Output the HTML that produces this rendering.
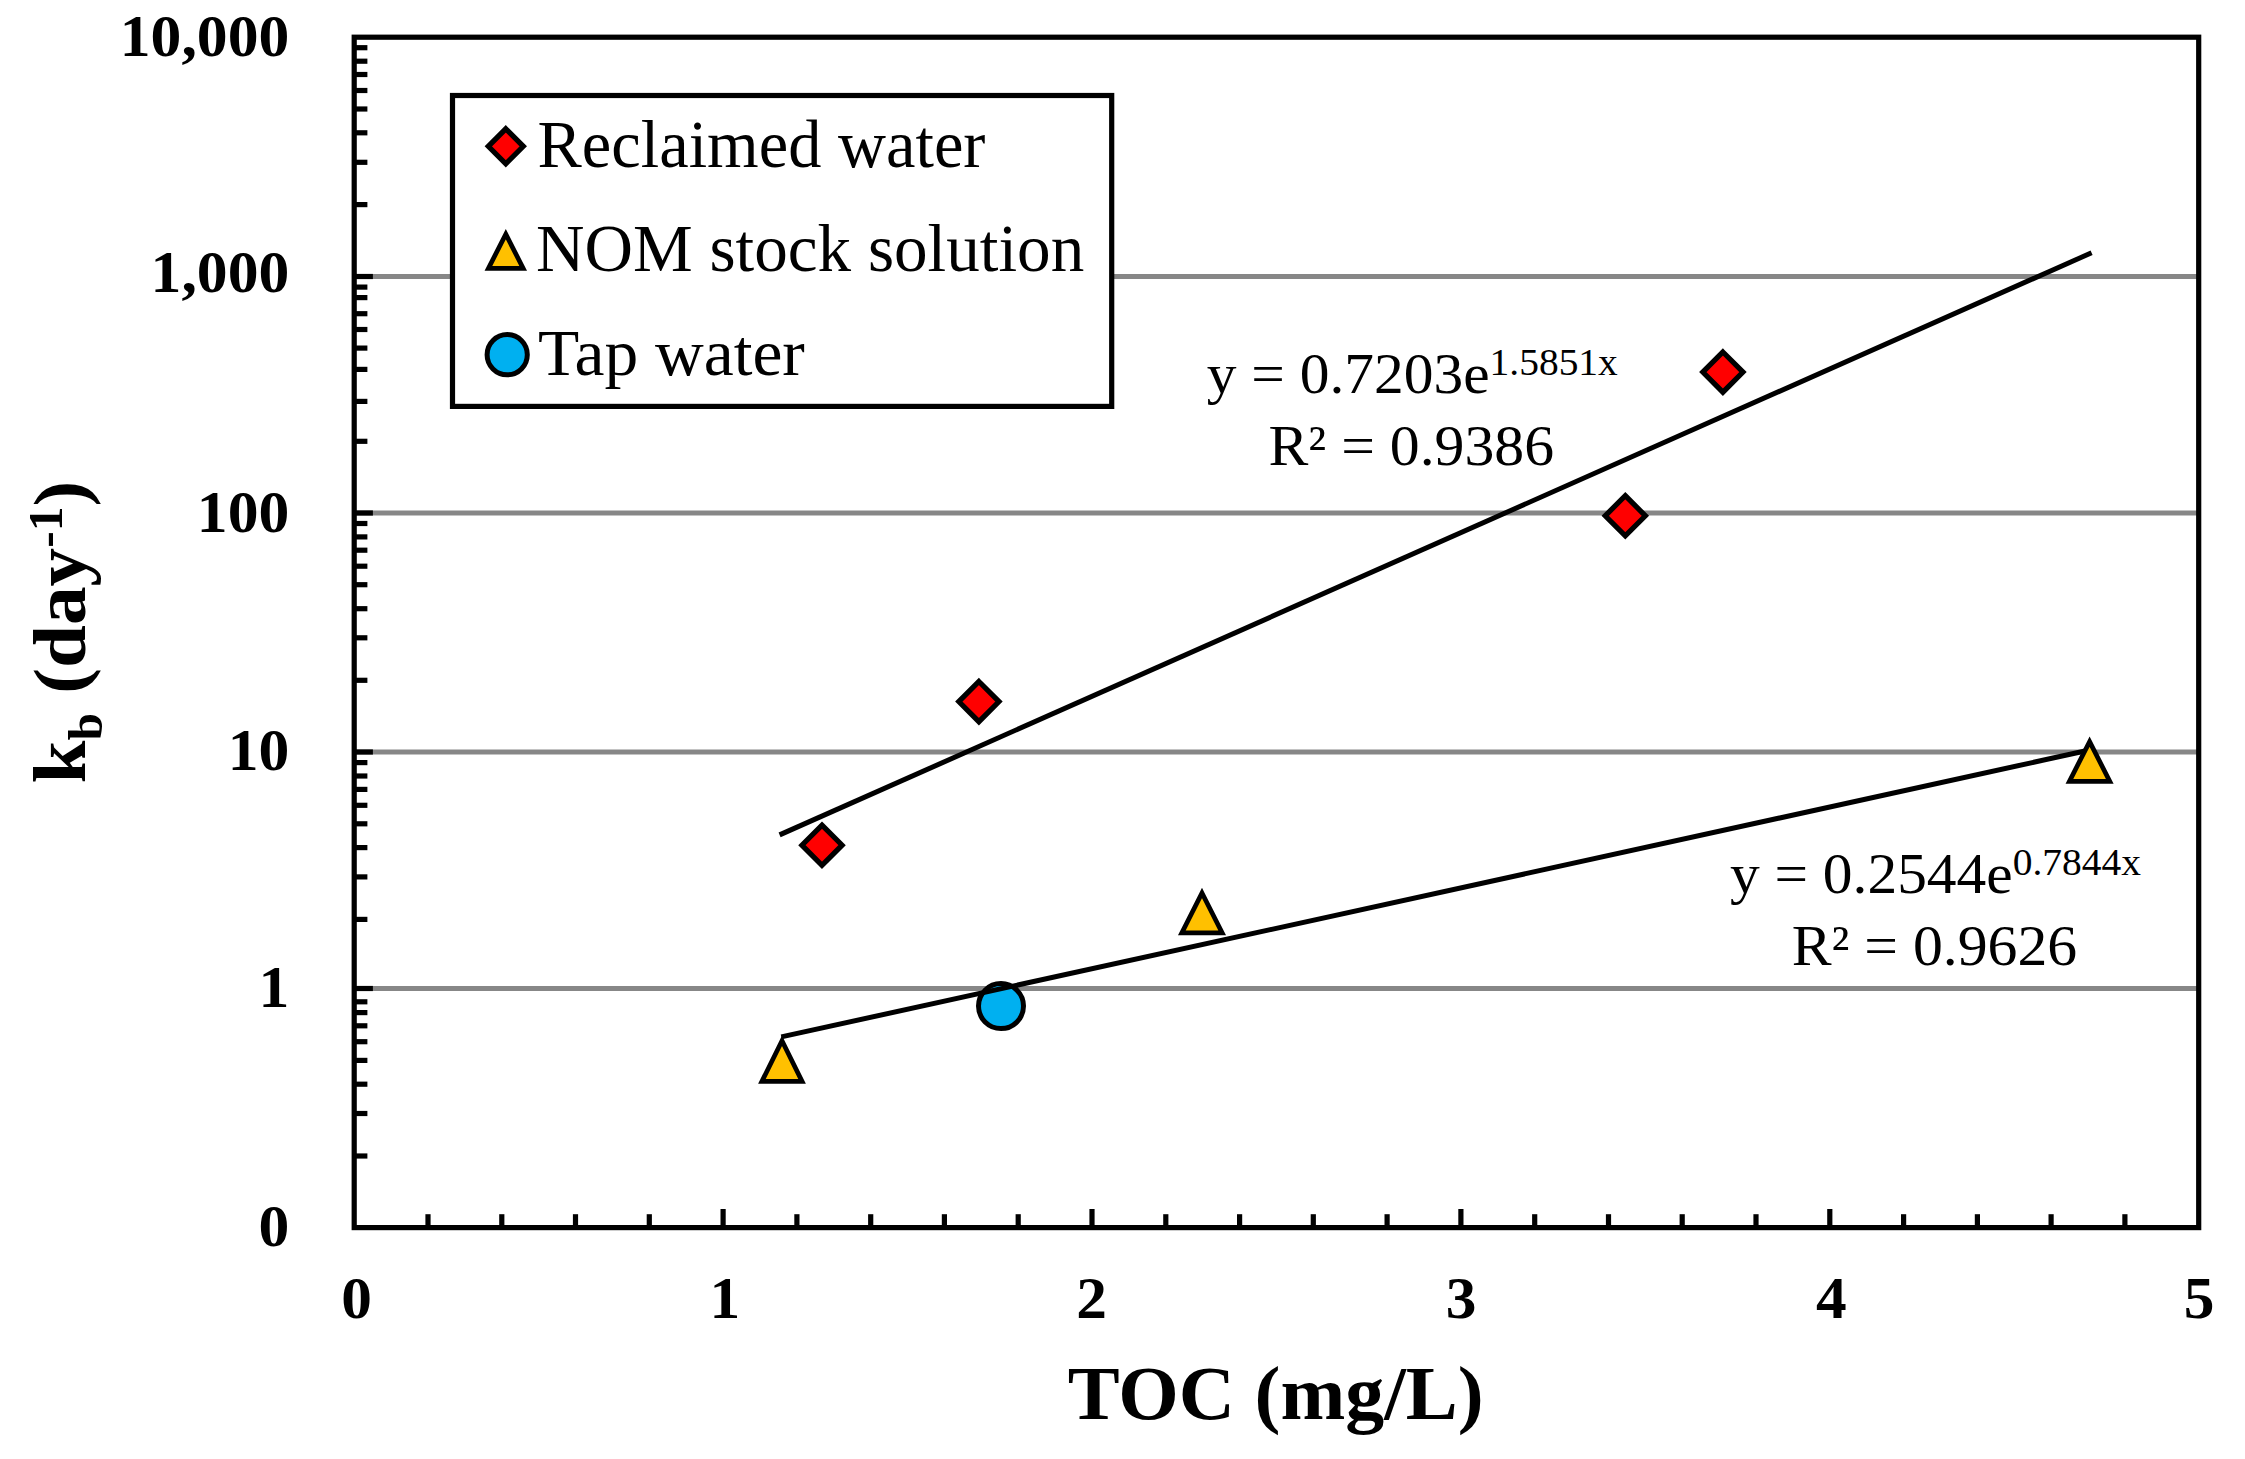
<!DOCTYPE html>
<html lang="en"><head><meta charset="utf-8"><title>kb vs TOC</title>
<style>html,body{margin:0;padding:0;background:#fff}svg{display:block}text{font-family:"Liberation Serif","Times New Roman",serif;fill:#000}.b{font-weight:bold}</style></head><body>
<svg width="2245" height="1459" viewBox="0 0 2245 1459">
<rect width="2245" height="1459" fill="#fff"/>
<g stroke="#878787" stroke-width="5.2">
<line x1="354.2" y1="276.5" x2="2198.7" y2="276.5"/>
<line x1="354.2" y1="513.0" x2="2198.7" y2="513.0"/>
<line x1="354.2" y1="752.0" x2="2198.7" y2="752.0"/>
<line x1="354.2" y1="988.5" x2="2198.7" y2="988.5"/>
</g>
<g stroke="#000" stroke-width="5.2">
<line x1="354.2" y1="47.7" x2="367.4" y2="47.7"/>
<line x1="354.2" y1="61.2" x2="367.4" y2="61.2"/>
<line x1="354.2" y1="74.5" x2="367.4" y2="74.5"/>
<line x1="354.2" y1="90.5" x2="367.4" y2="90.5"/>
<line x1="354.2" y1="109.0" x2="367.4" y2="109.0"/>
<line x1="354.2" y1="132.8" x2="367.4" y2="132.8"/>
<line x1="354.2" y1="162.3" x2="367.4" y2="162.3"/>
<line x1="354.2" y1="204.6" x2="367.4" y2="204.6"/>
<line x1="354.2" y1="287.1" x2="367.4" y2="287.1"/>
<line x1="354.2" y1="297.6" x2="367.4" y2="297.6"/>
<line x1="354.2" y1="313.7" x2="367.4" y2="313.7"/>
<line x1="354.2" y1="329.5" x2="367.4" y2="329.5"/>
<line x1="354.2" y1="348.1" x2="367.4" y2="348.1"/>
<line x1="354.2" y1="369.4" x2="367.4" y2="369.4"/>
<line x1="354.2" y1="401.4" x2="367.4" y2="401.4"/>
<line x1="354.2" y1="441.3" x2="367.4" y2="441.3"/>
<line x1="354.2" y1="523.5" x2="367.4" y2="523.5"/>
<line x1="354.2" y1="536.9" x2="367.4" y2="536.9"/>
<line x1="354.2" y1="550.2" x2="367.4" y2="550.2"/>
<line x1="354.2" y1="566.2" x2="367.4" y2="566.2"/>
<line x1="354.2" y1="584.7" x2="367.4" y2="584.7"/>
<line x1="354.2" y1="608.7" x2="367.4" y2="608.7"/>
<line x1="354.2" y1="637.8" x2="367.4" y2="637.8"/>
<line x1="354.2" y1="680.3" x2="367.4" y2="680.3"/>
<line x1="354.2" y1="762.6" x2="367.4" y2="762.6"/>
<line x1="354.2" y1="776.0" x2="367.4" y2="776.0"/>
<line x1="354.2" y1="789.4" x2="367.4" y2="789.4"/>
<line x1="354.2" y1="805.3" x2="367.4" y2="805.3"/>
<line x1="354.2" y1="823.8" x2="367.4" y2="823.8"/>
<line x1="354.2" y1="847.6" x2="367.4" y2="847.6"/>
<line x1="354.2" y1="876.9" x2="367.4" y2="876.9"/>
<line x1="354.2" y1="919.4" x2="367.4" y2="919.4"/>
<line x1="354.2" y1="1001.8" x2="367.4" y2="1001.8"/>
<line x1="354.2" y1="1012.6" x2="367.4" y2="1012.6"/>
<line x1="354.2" y1="1025.8" x2="367.4" y2="1025.8"/>
<line x1="354.2" y1="1041.7" x2="367.4" y2="1041.7"/>
<line x1="354.2" y1="1060.4" x2="367.4" y2="1060.4"/>
<line x1="354.2" y1="1084.2" x2="367.4" y2="1084.2"/>
<line x1="354.2" y1="1113.5" x2="367.4" y2="1113.5"/>
<line x1="354.2" y1="1156.0" x2="367.4" y2="1156.0"/>
<line x1="354.2" y1="276.5" x2="372.9" y2="276.5"/>
<line x1="354.2" y1="513.0" x2="372.9" y2="513.0"/>
<line x1="354.2" y1="752.0" x2="372.9" y2="752.0"/>
<line x1="354.2" y1="988.5" x2="372.9" y2="988.5"/>
<line x1="428.0" y1="1227.6" x2="428.0" y2="1214.2"/>
<line x1="501.8" y1="1227.6" x2="501.8" y2="1214.2"/>
<line x1="575.5" y1="1227.6" x2="575.5" y2="1214.2"/>
<line x1="649.3" y1="1227.6" x2="649.3" y2="1214.2"/>
<line x1="723.1" y1="1227.6" x2="723.1" y2="1209.0"/>
<line x1="796.9" y1="1227.6" x2="796.9" y2="1214.2"/>
<line x1="870.7" y1="1227.6" x2="870.7" y2="1214.2"/>
<line x1="944.4" y1="1227.6" x2="944.4" y2="1214.2"/>
<line x1="1018.2" y1="1227.6" x2="1018.2" y2="1214.2"/>
<line x1="1092.0" y1="1227.6" x2="1092.0" y2="1209.0"/>
<line x1="1165.8" y1="1227.6" x2="1165.8" y2="1214.2"/>
<line x1="1239.6" y1="1227.6" x2="1239.6" y2="1214.2"/>
<line x1="1313.3" y1="1227.6" x2="1313.3" y2="1214.2"/>
<line x1="1387.1" y1="1227.6" x2="1387.1" y2="1214.2"/>
<line x1="1460.9" y1="1227.6" x2="1460.9" y2="1209.0"/>
<line x1="1534.7" y1="1227.6" x2="1534.7" y2="1214.2"/>
<line x1="1608.5" y1="1227.6" x2="1608.5" y2="1214.2"/>
<line x1="1682.2" y1="1227.6" x2="1682.2" y2="1214.2"/>
<line x1="1756.0" y1="1227.6" x2="1756.0" y2="1214.2"/>
<line x1="1829.8" y1="1227.6" x2="1829.8" y2="1209.0"/>
<line x1="1903.6" y1="1227.6" x2="1903.6" y2="1214.2"/>
<line x1="1977.4" y1="1227.6" x2="1977.4" y2="1214.2"/>
<line x1="2051.1" y1="1227.6" x2="2051.1" y2="1214.2"/>
<line x1="2124.9" y1="1227.6" x2="2124.9" y2="1214.2"/>
</g>
<rect x="354.2" y="37.2" width="1844.5" height="1190.4" fill="none" stroke="#000" stroke-width="5.2"/>
<circle cx="1001" cy="1006.1" r="22.5" fill="#00B0F0" stroke="#000" stroke-width="5.0"/>
<g stroke="#000" stroke-width="5.0" stroke-linecap="butt">
<line x1="779.6" y1="834.9" x2="2091.6" y2="252.8"/>
<line x1="781.3" y1="1036.9" x2="2089.6" y2="750.0"/>
</g>
<path d="M782 1040.8L802.1 1081.4L761.9 1081.4Z" fill="#FFC000" stroke="#000" stroke-width="4.7" stroke-linejoin="miter"/>
<path d="M1202 893.0L1222.2 932.9L1181.8 932.9Z" fill="#FFC000" stroke="#000" stroke-width="4.7" stroke-linejoin="miter"/>
<path d="M2089.6 741.6L2109.8 781.4L2069.4 781.4Z" fill="#FFC000" stroke="#000" stroke-width="4.7" stroke-linejoin="miter"/>
<path d="M822 825.1L842.1 845.2L822 865.3L801.9 845.2Z" fill="#FF0000" stroke="#000" stroke-width="5.2" stroke-linejoin="miter"/>
<path d="M978.9 681.5L999.0 701.6L978.9 721.7L958.8 701.6Z" fill="#FF0000" stroke="#000" stroke-width="5.2" stroke-linejoin="miter"/>
<path d="M1625.3 495.7L1645.4 515.8L1625.3 535.9L1605.2 515.8Z" fill="#FF0000" stroke="#000" stroke-width="5.2" stroke-linejoin="miter"/>
<path d="M1722.9 352.0L1743.0 372.1L1722.9 392.2L1702.8 372.1Z" fill="#FF0000" stroke="#000" stroke-width="5.2" stroke-linejoin="miter"/>
<rect x="452.5" y="95.5" width="659.2" height="310.9" fill="#fff" stroke="#000" stroke-width="5.2"/>
<path d="M505.8 128.8L523.3 146.3L505.8 163.8L488.3 146.3Z" fill="#FF0000" stroke="#000" stroke-width="5.2" stroke-linejoin="miter"/>
<path d="M505.8 234.1L523.2 268.4L488.4 268.4Z" fill="#FFC000" stroke="#000" stroke-width="4.7" stroke-linejoin="miter"/>
<circle cx="507.2" cy="354.7" r="20.1" fill="#00B0F0" stroke="#000" stroke-width="5.0"/>
<text font-size="66.6" text-anchor="start" transform="translate(537.5 167.4) scale(0.997 1)">Reclaimed water</text>
<text font-size="66.6" text-anchor="start" transform="translate(536.0 270.8) scale(1.008 1)">NOM stock solution</text>
<text font-size="66.6" text-anchor="start" transform="translate(538 374.6) scale(1.013 1)">Tap water</text>
<text font-size="58" text-anchor="middle" transform="translate(1412.3 392.7) scale(1.025 1)">y = 0.7203e<tspan font-size="38.5" dy="-17.8">1.5851x</tspan></text>
<text font-size="58" text-anchor="middle" transform="translate(1411.3 464.5) scale(1.03 1)">R² = 0.9386</text>
<text font-size="58" text-anchor="middle" transform="translate(1935.4 892.7) scale(1.025 1)">y = 0.2544e<tspan font-size="38.5" dy="-17.8">0.7844x</tspan></text>
<text font-size="58" text-anchor="middle" transform="translate(1934.4 964.5) scale(1.03 1)">R² = 0.9626</text>
<text class="b" font-size="59" text-anchor="end" transform="translate(289.3 55.6) scale(1.045 1)">10,000</text>
<text class="b" font-size="59" text-anchor="end" transform="translate(289.3 292.0) scale(1.045 1)">1,000</text>
<text class="b" font-size="59" text-anchor="end" transform="translate(289.3 531.5) scale(1.045 1)">100</text>
<text class="b" font-size="59" text-anchor="end" transform="translate(289.3 770.4) scale(1.045 1)">10</text>
<text class="b" font-size="59" text-anchor="end" transform="translate(289.3 1006.7) scale(1.045 1)">1</text>
<text class="b" font-size="59" text-anchor="end" transform="translate(289.3 1245.6) scale(1.045 1)">0</text>
<text class="b" font-size="59" text-anchor="middle" transform="translate(356.7 1317.6) scale(1.04 1)">0</text>
<text class="b" font-size="59" text-anchor="middle" transform="translate(724.9 1317.6) scale(1.04 1)">1</text>
<text class="b" font-size="59" text-anchor="middle" transform="translate(1091.7 1317.6) scale(1.04 1)">2</text>
<text class="b" font-size="59" text-anchor="middle" transform="translate(1461.2 1317.6) scale(1.04 1)">3</text>
<text class="b" font-size="59" text-anchor="middle" transform="translate(1831.3 1317.6) scale(1.04 1)">4</text>
<text class="b" font-size="59" text-anchor="middle" transform="translate(2199.0 1317.6) scale(1.04 1)">5</text>
<text class="b" font-size="76" text-anchor="middle" transform="translate(1275.7 1418.7) scale(1.024 1)">TOC (mg/L)</text>
<text class="b" font-size="75" text-anchor="middle" transform="translate(84.9 632.2) rotate(-90) scale(1.03 1)">k<tspan font-size="48" dy="17">b</tspan><tspan dy="-17"> (day</tspan><tspan font-size="48" dy="-23">-1</tspan><tspan dy="23">)</tspan></text>
</svg></body></html>
